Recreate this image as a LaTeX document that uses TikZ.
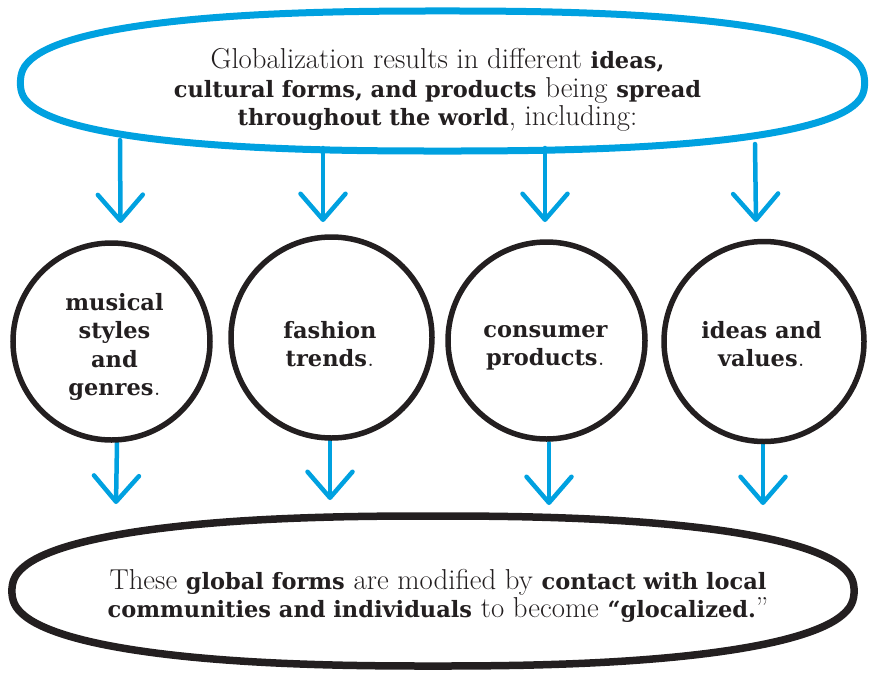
\documentclass[tikz,border=0pt]{standalone}
\usepackage{fontspec}
\setmainfont{Latin Modern Roman}[Scale=1.28]
\newfontfamily\slab{DejaVu Serif}
\usetikzlibrary{arrows.meta}
\definecolor{gblue}{RGB}{0,161,224}
\definecolor{ink}{RGB}{35,31,32}
\newcommand\hb[1]{{\slab\bfseries #1}}
\begin{document}
\begin{tikzpicture}[x=1pt,y=-1pt,
  txt/.style={align=center, text=ink, font=\fontsize{22.5}{28.5}\selectfont, inner sep=0pt},
  ring/.style={circle, draw=ink, line width=5.5pt, inner sep=0pt},
  blueline/.style={draw=gblue, line width=7pt, line join=round},
  inkline/.style={draw=ink, line width=7.5pt, line join=round},
  flow/.style={draw=gblue, line width=4.5pt, line cap=round,
    -{Straight Barb[length=26pt,width=45pt,round]}}
]
\useasboundingbox (0,0) rectangle (874,672);
% arrow end points
\coordinate (t1a) at (120,140); \coordinate (t1b) at (120.5,223);
\coordinate (t2a) at (323,148); \coordinate (t2b) at (323,222);
\coordinate (t3a) at (545,148); \coordinate (t3b) at (545,222);
\coordinate (t4a) at (755,144); \coordinate (t4b) at (756,222);
\coordinate (b1a) at (117,443); \coordinate (b1b) at (116,504);
\coordinate (b2a) at (330,440); \coordinate (b2b) at (330,500);
\coordinate (b3a) at (549,443); \coordinate (b3b) at (549,505);
\coordinate (b4a) at (763,443); \coordinate (b4b) at (763,505);
\foreach \k in {t1,t2,t3,t4,b1,b2,b3,b4} {\draw[flow] (\k a) -- (\k b);}
% top ellipse
\draw[blueline] plot[domain=1:359, samples=180, variable=\t]
  ({442.5+422*sign(cos(\t))*pow(abs(cos(\t)),0.8)},
   {83+ifthenelse(sin(\t)>0,68,72)*sign(sin(\t))*pow(abs(sin(\t)),0.8)}) -- cycle;
\node[txt] (head) at (437.5,90) {Globalization results in different \hb{ideas,}\\
  \hb{cultural forms, and products} being \hb{spread}\\
  \hb{throughout the world}, including:};
% circles
\node[ring, minimum size=197pt] (c1) at (111.5,341.5) {};
\node[ring, minimum size=201pt] (c2) at (331.5,337.5) {};
\node[ring, minimum size=197pt] (c3) at (546.5,340.5) {};
\node[ring, minimum size=200pt] (c4) at (764,341.5) {};
\node[txt] (l1) at (114.5,347) {\hb{musical}\\\hb{styles}\\\hb{and}\\\hb{genres}.};
\node[txt] (l2) at (330,344) {\hb{fashion}\\\hb{trends}.};
\node[txt] (l3) at (545.5,348) {\hb{consumer}\\\hb{products}.};
\node[txt] (l4) at (761.5,344) {\hb{ideas and}\\\hb{values}.};
% bottom ellipse
\draw[inkline] plot[domain=1:359, samples=180, variable=\t]
  ({433+421*sign(cos(\t))*pow(abs(cos(\t)),0.833)},
   {591+75*sign(sin(\t))*pow(abs(sin(\t)),0.833)}) -- cycle;
\node[txt] (foot) at (438,596) {These \hb{global forms} are modified by \hb{contact with local}\\
  \hb{communities and individuals} to become \hb{“glocalized.}”};
\end{tikzpicture}
\end{document}
